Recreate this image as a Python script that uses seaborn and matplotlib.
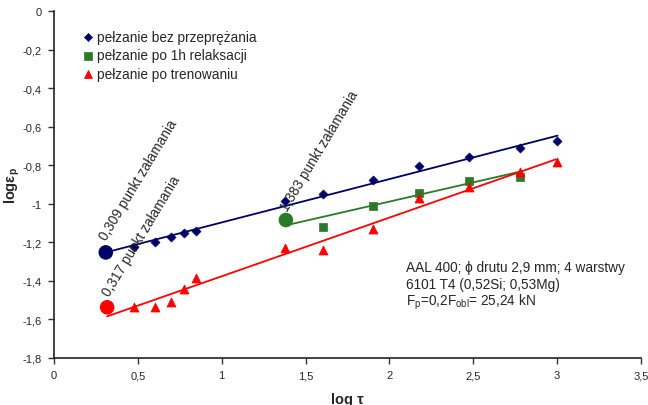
import numpy as np
import pandas as pd
import matplotlib
matplotlib.use('Agg')
import matplotlib.pyplot as plt
from matplotlib.ticker import FuncFormatter
import seaborn as sns

# data
x_bez = [0.477, 0.602, 0.699, 0.778, 0.845, 1.380, 1.602, 1.903, 2.176, 2.477, 2.778, 3.000]
y_bez = [-1.222, -1.200, -1.172, -1.153, -1.143, -0.987, -0.948, -0.877, -0.804, -0.756, -0.711, -0.676]

x_rel = [1.602, 1.903, 2.176, 2.477, 2.778]
y_rel = [-1.119, -1.010, -0.946, -0.883, -0.859]

x_tren = [0.477, 0.602, 0.699, 0.778, 0.845, 1.380, 1.602, 1.903, 2.176, 2.477, 2.778, 3.000]
y_tren = [-1.537, -1.537, -1.508, -1.444, -1.387, -1.229, -1.238, -1.131, -0.972, -0.915, -0.835, -0.785]

# trend lines (start, end)
fit_bez_x, fit_bez_y = [0.309, 3.003], [-1.252, -0.646]
fit_rel_x, fit_rel_y = [1.390, 2.779], [-1.110, -0.833]
fit_tren_x, fit_tren_y = [0.317, 2.993], [-1.584, -0.769]

# break points
break_x = [0.309, 1.383, 0.317]
break_y = [-1.252, -1.084, -1.537]
break_lbl = ['0,309 punkt załamania', '1,383 punkt załamania', '0,317 punkt załamania']

c_blue = '#000066'
c_green = '#2a7a2a'
c_red = '#ff0000'

sns.set_style('white')
plt.rcParams['font.family'] = ['Liberation Sans', 'DejaVu Sans']

fig = plt.figure(figsize=(6.48, 4.06), dpi=100)
ax = fig.add_axes([0.0833, 0.1158, 0.9057, 0.8542])

sns.lineplot(x=fit_bez_x, y=fit_bez_y, color=c_blue, lw=1.3, ax=ax)
sns.lineplot(x=fit_rel_x, y=fit_rel_y, color=c_green, lw=1.3, ax=ax)
sns.lineplot(x=fit_tren_x, y=fit_tren_y, color=c_red, lw=1.3, ax=ax)

sns.scatterplot(x=x_bez, y=y_bez, marker='D', s=22, color=c_blue, edgecolor=c_blue,
                label='pełzanie bez przeprężania', ax=ax, zorder=3)
sns.scatterplot(x=x_rel, y=y_rel, marker='s', s=38, color=c_green, edgecolor=c_green,
                label='pełzanie po 1h relaksacji', ax=ax, zorder=3)
sns.scatterplot(x=x_tren, y=y_tren, marker='^', s=42, color=c_red, edgecolor=c_red,
                label='pełzanie po trenowaniu', ax=ax, zorder=3)

sns.scatterplot(x=break_x, y=break_y, marker='o', s=110,
                hue=break_lbl, palette=[c_blue, c_green, c_red], edgecolor='none',
                legend=False, ax=ax, zorder=4)

# rotated labels at break points
lbl_pos = [(0.315, -1.19), (1.39, -1.04), (0.33, -1.48)]
for (lx, ly), t in zip(lbl_pos, break_lbl):
    ax.text(lx, ly, t, rotation=59, rotation_mode='anchor',
            ha='left', va='baseline', fontsize=9.8)

ax.text(2.10, -1.328, 'AAL 400; ϕ drutu 2,9 mm; 4 warstwy', fontsize=9.8, va='center')
ax.text(2.10, -1.416, '6101 T4 (0,52Si; 0,53Mg)', fontsize=9.8, va='center')
ax.text(2.10, -1.504, 'F$_\\mathregular{p}$=0,2F$_\\mathregular{obl}$= 25,24 kN', fontsize=9.8, va='center')

ax.set_xlim(0, 3.5)
ax.set_ylim(-1.8, 0)
ax.set_xticks(np.arange(0, 3.51, 0.5))
ax.set_yticks(np.arange(-1.8, 0.01, 0.2))


def fmt_fn(v, p):
    if abs(v) < 1e-9:
        return '0'
    return ('%g' % round(v, 2)).replace('.', ',')


ax.xaxis.set_major_formatter(FuncFormatter(fmt_fn))
ax.yaxis.set_major_formatter(FuncFormatter(fmt_fn))
ax.tick_params(axis='both', labelsize=8, length=4, width=1, direction='out',
               bottom=True, left=True, color='#333333', pad=5)

for s in ['top', 'right']:
    ax.spines[s].set_visible(False)
for s in ['left', 'bottom']:
    ax.spines[s].set_color('#222222')
    ax.spines[s].set_linewidth(1.2)

ax.set_xlabel('log τ', fontsize=10.5, fontweight='bold', labelpad=8)
ax.set_ylabel('logε$_\\mathregular{p}$', fontsize=10.5, fontweight='bold')
ax.yaxis.set_label_coords(-0.054, 0.5)

ax.legend(loc='upper left', bbox_to_anchor=(0.03, 0.97), frameon=False, fontsize=9.8,
          handletextpad=0.1, borderaxespad=0.2, labelspacing=0.33, markerscale=0.9,
          handlelength=1.2)

fig.savefig('out.png', dpi=100)
